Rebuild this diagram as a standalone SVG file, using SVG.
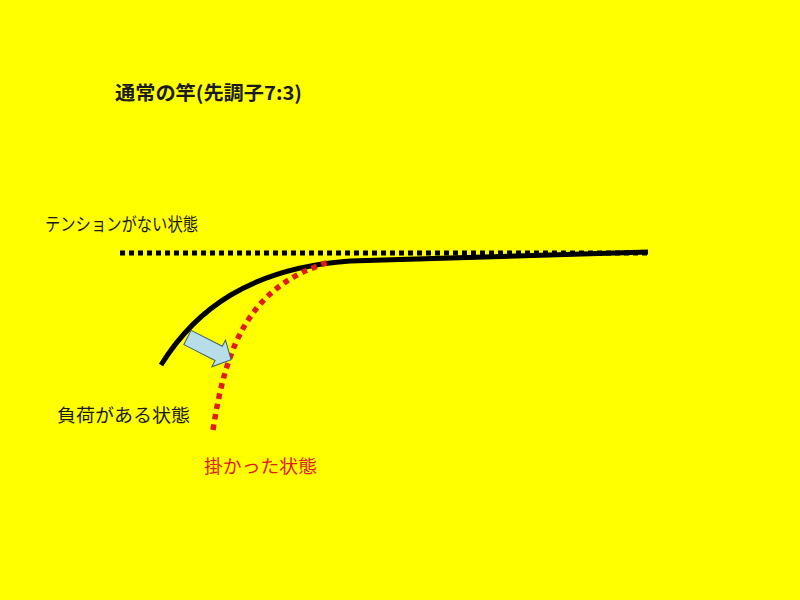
<svg xmlns="http://www.w3.org/2000/svg" width="800" height="600" viewBox="0 0 800 600">
<style>
.t{font-family:"Noto Sans CJK JP","Liberation Sans",sans-serif;font-size:18px;fill:#1a1a1a;font-weight:normal}
.b{font-weight:bold;font-size:19px}
.r{fill:#e21a1a}
</style>
<rect width="800" height="600" fill="#ffff00"/>
<g id="title"><text class="t b" x="115" y="100" textLength="187" lengthAdjust="spacingAndGlyphs">通常の竿(先調子7:3)</text></g>
<g id="label-no-tension"><text class="t" x="45" y="231" textLength="153" lengthAdjust="spacingAndGlyphs">テンションがない状態</text></g>
<g id="label-load"><text class="t" x="57" y="422" textLength="133" lengthAdjust="spacingAndGlyphs">負荷がある状態</text></g>
<g id="label-hooked"><text class="t r" x="204" y="473" textLength="113" lengthAdjust="spacingAndGlyphs">掛かった状態</text></g>
<g id="connectors" fill="none">
<line x1="120" y1="253" x2="650" y2="253" stroke="#000" stroke-width="5" stroke-dasharray="5 4"/>
<path d="M161,365 C195,310 250,268 350,261 L648,252" stroke="#000" stroke-width="5"/>
<path d="M213,430 C226,345 250,285 330,262" stroke="#e21a1a" stroke-width="5.5" stroke-dasharray="5.5 5"/>
</g>
<g id="arrow"><polygon points="0,-8 35,-8 35,-15 49,0 35,15 35,8 0,8" transform="translate(187.5,337.5) rotate(27)" fill="#b7dde8" stroke="#3d5f6e" stroke-width="1"/></g>
</svg>
